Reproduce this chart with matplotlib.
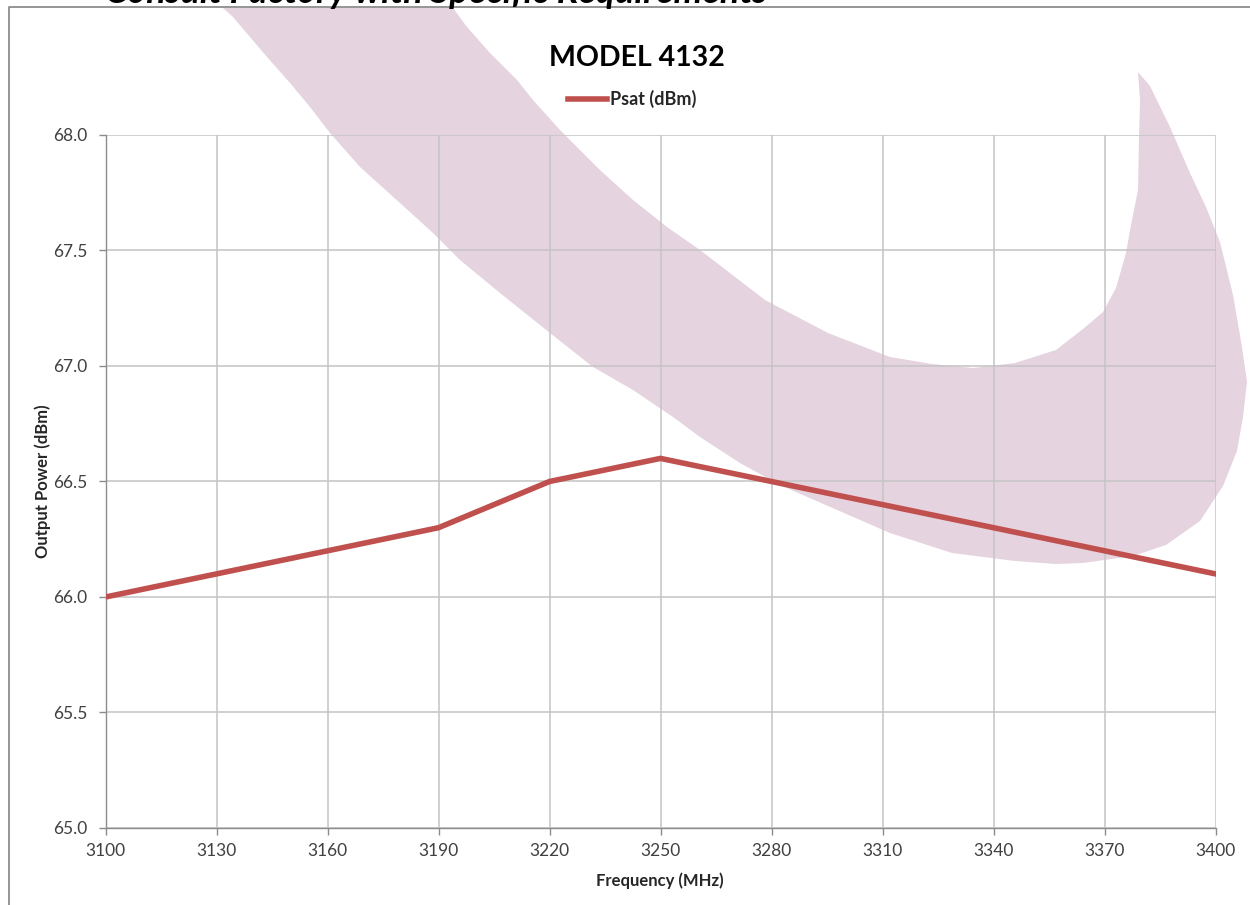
import matplotlib
matplotlib.use("Agg")
import matplotlib.pyplot as plt
from matplotlib.patches import Polygon
from matplotlib.lines import Line2D

plt.rcParams['font.family'] = ['Lato', 'DejaVu Sans']

# ---- data ----
freq_mhz = [3100, 3130, 3160, 3190, 3220, 3250, 3280, 3310, 3340, 3370, 3400]
psat_dbm = [66.0, 66.1, 66.2, 66.3, 66.5, 66.6, 66.5, 66.4, 66.3, 66.2, 66.1]
x_ticks = [3100, 3130, 3160, 3190, 3220, 3250, 3280, 3310, 3340, 3370, 3400]
y_ticks = [65.0, 65.5, 66.0, 66.5, 67.0, 67.5, 68.0]
title = "MODEL 4132"
series_name = "Psat (dBm)"
heading = "Consult Factory with Specific Requirements"

W, H = 1250, 905

# background watermark swoosh outline (pixel coords, origin top-left)
WATERMARK_PX = [
    (223, 8), (233, 17), (250, 37), (267, 57), (290, 83), (310, 107), (330, 133),
    (360, 167), (400, 203), (433, 233), (460, 260), (500, 293), (550, 333),
    (593, 367), (633, 390), (673, 417), (700, 437), (740, 463), (780, 485),
    (828, 506), (890, 533), (952, 553), (1015, 561), (1056, 564), (1083, 563),
    (1133, 556), (1166, 545), (1200, 521), (1223, 486), (1237, 451), (1243, 417),
    (1247, 382), (1242, 347), (1233, 295), (1220, 242), (1206, 207), (1190, 173),
    (1170, 127), (1150, 86), (1138, 72), (1140, 100), (1139, 138), (1138, 190),
    (1131, 225), (1126, 253), (1116, 288), (1103, 312), (1083, 329), (1056, 350),
    (1015, 363), (973, 368), (932, 364), (890, 357), (828, 333), (765, 300),
    (700, 250), (667, 227), (633, 200), (600, 170), (560, 130), (533, 100),
    (517, 80), (490, 53), (467, 27), (453, 8),
]

fig = plt.figure(figsize=(W / 100, H / 100), dpi=100)
fig.patch.set_facecolor('white')

wm = Polygon([(x / W, 1 - y / H) for x, y in WATERMARK_PX], closed=True,
             transform=fig.transFigure, facecolor='#e5d3df', edgecolor='none',
             zorder=-5)
fig.patches.append(wm)

# outer frame lines
frame_col = '#8c8c8c'
fig.lines.append(Line2D([9 / W, 9 / W, 1.0], [0.0, 1 - 7.5 / H, 1 - 7.5 / H],
                        transform=fig.transFigure, color=frame_col, lw=1.3))

# cut-off heading at the very top (cut off in the source as well)
fig.text(105 / W, 1 - 3 / H, heading, ha='left', va='baseline',
         fontsize=26, fontweight='bold', fontstyle='italic', color='black')

ax = fig.add_axes([105.5 / W, 1 - 828 / H, (1215.5 - 105.5) / W, (828 - 135) / H])
ax.set_facecolor('none')

line, = ax.plot(freq_mhz, psat_dbm, color='#c0504d', lw=4.0,
                solid_joinstyle='miter', zorder=3, label=series_name)

ax.set_xlim(x_ticks[0], x_ticks[-1])
ax.set_ylim(y_ticks[0], y_ticks[-1])
ax.set_xticks(x_ticks)
ax.set_xticklabels([str(v) for v in x_ticks])
ax.set_yticks(y_ticks)
ax.set_yticklabels([f"{v:.1f}" for v in y_ticks])

ax.grid(True, color='#c4c4c4', lw=1.1, zorder=1)
ax.set_axisbelow(True)
for s in ['top', 'right']:
    ax.spines[s].set_visible(False)
for s in ['left', 'bottom']:
    ax.spines[s].set_color('#8c8c8c')
    ax.spines[s].set_linewidth(1.0)
ax.tick_params(axis='both', colors='#8c8c8c', length=5, width=1.0,
               labelcolor='#404040', labelsize=12.5)
ax.tick_params(axis='y', pad=8)
ax.tick_params(axis='x', pad=6)

ax.set_xlabel("Frequency (MHz)", fontsize=12, fontweight='bold',
              color='#262626', va='center')
ax.xaxis.set_label_coords(0.5 + (660 - 660.5) / 1110, (828 - 881) / 693)
ax.set_ylabel("Output Power (dBm)", fontsize=12, fontweight='bold',
              color='#262626', va='center')
ax.yaxis.set_label_coords((43 - 105.5) / 1110, (828 - 481) / 693)

fig.text(637 / W, 1 - 58 / H, title, ha='center', va='center',
         fontsize=20.5, fontweight='bold', color='black')

leg = fig.legend(handles=[line], loc='center', bbox_to_anchor=(632 / W, 1 - 99 / H),
                 frameon=False, handlelength=2.2, handletextpad=0.15,
                 borderaxespad=0, borderpad=0,
                 prop={'weight': 'bold', 'size': 13})
for t in leg.get_texts():
    t.set_color('#262626')

fig.savefig('out.png', dpi=100)
